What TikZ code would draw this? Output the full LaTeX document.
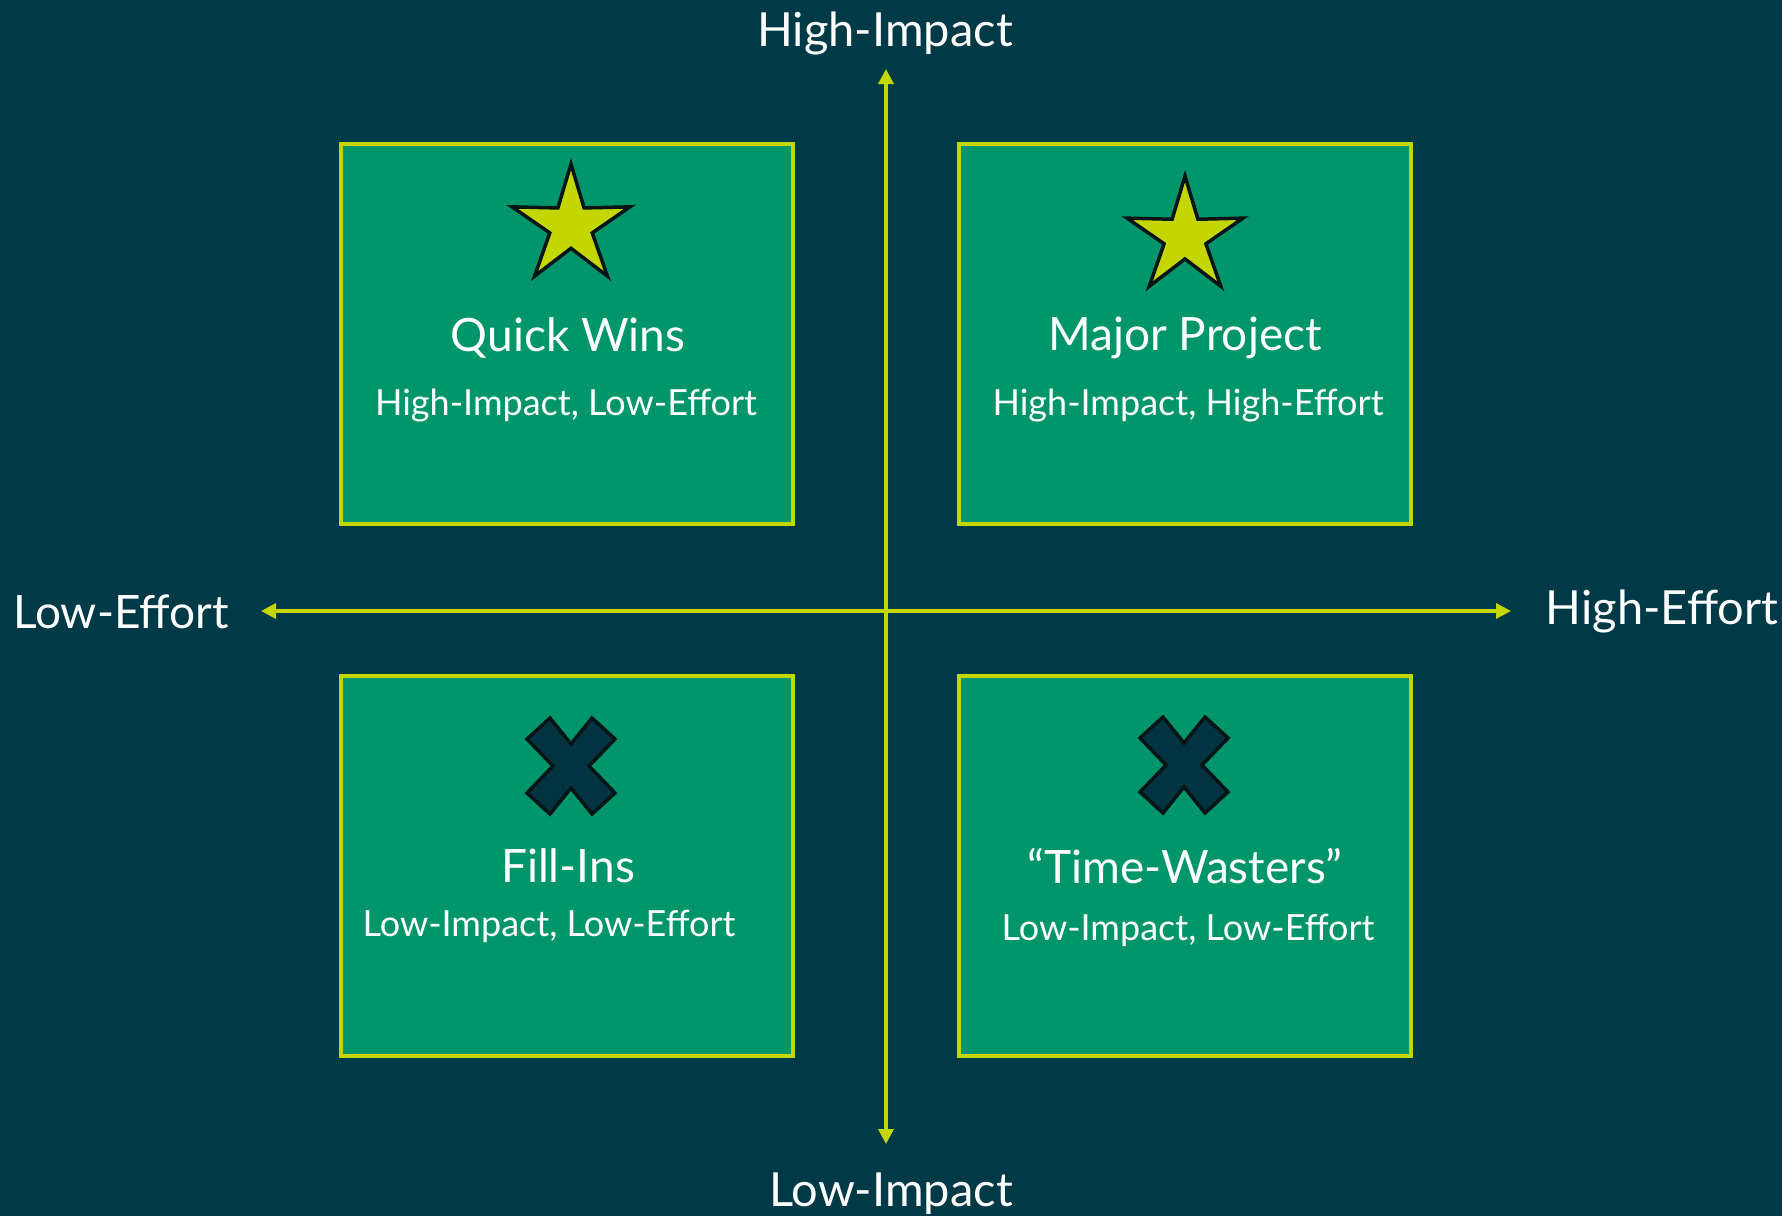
\documentclass[tikz,border=0pt]{standalone}
\usepackage{fontspec}
\setmainfont{Lato}
\usetikzlibrary{arrows.meta}
\definecolor{bgc}{RGB}{1,58,71}
\definecolor{boxg}{RGB}{0,150,105}
\definecolor{lime}{RGB}{196,214,0}
\definecolor{xfill}{RGB}{1,52,64}
\definecolor{outl}{RGB}{5,20,22}
\tikzset{
  quad/.style={draw=lime, fill=boxg, line width=4pt, minimum width=452pt, minimum height=380pt, inner sep=0pt},
  axis/.style={draw=lime, line width=3.5pt, -{Triangle[length=15pt,width=15pt]}},
  ttl/.style={text=white, font=\fontsize{46}{54}\selectfont, inner sep=0pt},
  sub/.style={text=white, font=\fontsize{36}{42}\selectfont, inner sep=0pt},
  axlbl/.style={text=white, font=\fontsize{47}{56}\selectfont, inner sep=0pt},
  starshape/.style={fill=lime, draw=outl, line width=3.5pt, line join=miter},
  xshape/.style={fill=xfill, draw=outl, line width=3.5pt, line join=miter}
}
\newcommand{\mystar}[3]{% center x, y, R
  \path[starshape] plot[samples at={0,...,9}, variable=\k] ({#1+(mod(\k,2)==0 ? #3 : 0.36*#3)*cos(90+36*\k)}, {#2-(mod(\k,2)==0 ? #3 : 0.36*#3)*sin(90+36*\k)}) -- cycle;}
\newcommand{\myx}[2]{%
  \path[xshape] (#1,#2-22) -- ++(21,-26) -- ++(23,21) -- (#1+18,#2) -- (#1+44,#2+27) -- (#1+21,#2+48) -- (#1,#2+22) -- (#1-21,#2+48) -- (#1-44,#2+27) -- (#1-18,#2) -- (#1-44,#2-27) -- (#1-21,#2-48) -- cycle;}
\begin{document}
\begin{tikzpicture}[x=1pt,y=-1pt]
\fill[bgc] (0,0) rectangle (1782,1216);
\useasboundingbox (0,0) rectangle (1782,1216);
% quadrants
\node[quad] (qw) at (566.5,333.5) {};
\node[quad] (mp) at (1185,333.5) {};
\node[quad] (fi) at (566.5,865.5) {};
\node[quad] (tw) at (1185,865.5) {};
% axes
\coordinate (ctr) at (886,611);
\coordinate (top) at (886,69);
\coordinate (bot) at (886,1144);
\coordinate (lft) at (261,611);
\coordinate (rgt) at (1511,611);
\draw[axis] (ctr) -- (top);
\draw[axis] (ctr) -- (bot);
\draw[axis] (ctr) -- (lft);
\draw[axis] (ctr) -- (rgt);
% axis labels
\node[axlbl] (hi) at (885,33) {High-Impact};
\node[axlbl] (li) at (891,1194) {Low-Impact};
\node[axlbl, font=\fontsize{46}{56}\selectfont] (le) at (121,612) {Low-Effort};
\node[axlbl] (he) at (1662,611) {High-Effort};
% icons
\mystar{571}{226}{62}
\mystar{1185}{237}{61}
\myx{571}{766}
\myx{1184}{765}
% texts
\node[ttl] (t1) at (568,338) {Quick Wins};
\node[sub] (s1) at (566,406) {High-Impact, Low-Effort};
\node[ttl] (t2) at (1185,338) {Major Project};
\node[sub] (s2) at (1188,406) {High-Impact, High-Effort};
\node[ttl] (t3) at (568,866) {Fill-Ins};
\node[sub] (s3) at (549,926) {Low-Impact, Low-Effort};
\node[ttl] (t4) at (1185,866) {“Time-Wasters”};
\node[sub] (s4) at (1188,930) {Low-Impact, Low-Effort};
\end{tikzpicture}
\end{document}
